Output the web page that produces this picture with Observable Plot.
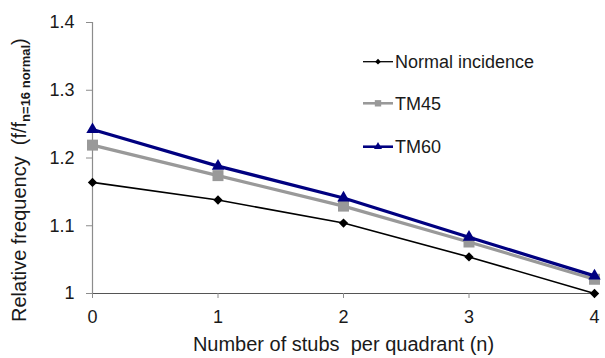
<!DOCTYPE html>
<html>
<head>
<meta charset="utf-8">
<script src="https://cdn.jsdelivr.net/npm/d3@7"></script>
<script src="https://cdn.jsdelivr.net/npm/@observablehq/plot@0.6"></script>
<style>
  html, body { margin: 0; padding: 0; background: #fff; }
  #chart { width: 605px; height: 358px; }
</style>
</head>
<body>
<div id="chart"></div>
<script>
// ---- Data ----
const stubCounts = [0, 1, 2, 3, 4];
const normalValues = [1.164, 1.138, 1.104, 1.054, 1.000];
const tm45Values = [1.219, 1.174, 1.129, 1.076, 1.021];
const tm60Values = [1.242, 1.188, 1.141, 1.083, 1.026];
const seriesNames = ["Normal incidence", "TM45", "TM60"];
const xTicks = [0, 1, 2, 3, 4];
const yTicks = [1, 1.1, 1.2, 1.3, 1.4];
const xTitle = "Number of stubs  per quadrant (n)";
const yTitleMain = "Relative frequency  (f/f";
const yTitleSub = "n=16 normal";
const yTitleEnd = ")";

// ---- Styles ----
const FONT = "'Liberation Sans', Arial, Helvetica, sans-serif";
const styles = {
  "Normal incidence": {stroke: "#000000", width: 1.6, symbol: "diamond2", r: 4.2, lr: 2.6},
  "TM45": {stroke: "#999999", width: 3.2, symbol: "square", r: 6.2, lr: 3.6},
  "TM60": {stroke: "#000080", width: 3.2, symbol: "triangle", r: 4.6, lr: 3.0}
};

const valuesBySeries = [normalValues, tm45Values, tm60Values];
const rows = [];
seriesNames.forEach((name, si) => {
  stubCounts.forEach((n, i) => rows.push({series: name, n, value: valuesBySeries[si][i]}));
});

const seriesMarks = seriesNames.flatMap(name => {
  const s = styles[name];
  const d = rows.filter(r => r.series === name);
  return [
    Plot.line(d, {x: "n", y: "value", stroke: s.stroke, strokeWidth: s.width}),
    Plot.dot(d, {x: "n", y: "value", symbol: () => s.symbol, r: s.r, fill: s.stroke, stroke: "none"})
  ];
});

const chart = Plot.plot({
  width: 605,
  height: 358,
  marginLeft: 92,
  marginRight: 11,
  marginTop: 22,
  marginBottom: 65,
  style: {fontFamily: FONT, color: "#1a1a1a", background: "#fff"},
  x: {domain: [0, 4]},
  y: {domain: [1, 1.4]},
  marks: [
    Plot.ruleX([0], {stroke: "#8c8c8c", strokeWidth: 1.2}),
    Plot.ruleY([1], {stroke: "#555", strokeWidth: 1.2}),
    Plot.axisY(yTicks, {tickSize: 6, tickPadding: 12, fontSize: 18, stroke: "#8c8c8c", tickFormat: d => d3.format("~g")(d), label: null}),
    Plot.axisX(xTicks, {tickSize: 5, tickPadding: 12, fontSize: 18, stroke: "#8c8c8c", tickFormat: d => String(d), label: null}),
    ...seriesMarks,
    Plot.text([xTitle], {frameAnchor: "bottom", dy: 51, lineAnchor: "middle", fontSize: 20, fill: "#1a1a1a"})
  ]
});

document.getElementById("chart").appendChild(chart);

// ---- Y axis title with subscript ----
const svg = d3.select(chart);
const yt = svg.append("text")
  .attr("transform", "translate(19,322) rotate(-90)")
  .attr("text-anchor", "start")
  .attr("dy", "0.35em")
  .attr("font-family", FONT)
  .attr("font-size", 20)
  .attr("fill", "#1a1a1a");
yt.append("tspan").text(yTitleMain);
yt.append("tspan").attr("font-size", 13).attr("font-weight", "bold").attr("dy", 4).text(yTitleSub);
yt.append("tspan").attr("dy", -4).text(yTitleEnd);

// ---- Legend (inside plot area) ----
const legendRowsY = [61.7, 103.3, 146.7];
const legend = svg.append("g").attr("text-anchor", "start");
seriesNames.forEach((name, i) => {
  const s = styles[name];
  const y = legendRowsY[i];
  const g = legend.append("g").attr("transform", `translate(0,${y})`);
  g.append("line").attr("x1", 363).attr("x2", 393).attr("y1", 0).attr("y2", 0)
    .attr("stroke", s.stroke).attr("stroke-width", s.width * 0.8);
  const symType = s.symbol === "diamond2" ? d3.symbolDiamond2 : s.symbol === "square" ? d3.symbolSquare : d3.symbolTriangle;
  g.append("path").attr("transform", "translate(378,0)")
    .attr("d", d3.symbol(symType, Math.PI * s.lr * s.lr)())
    .attr("fill", s.stroke);
  g.append("text").attr("x", 395).attr("y", 0).attr("dy", "0.35em")
    .attr("text-anchor", "start")
    .attr("font-family", FONT).attr("font-size", 18).attr("fill", "#1a1a1a")
    .text(name);
});
</script>
</body>
</html>
